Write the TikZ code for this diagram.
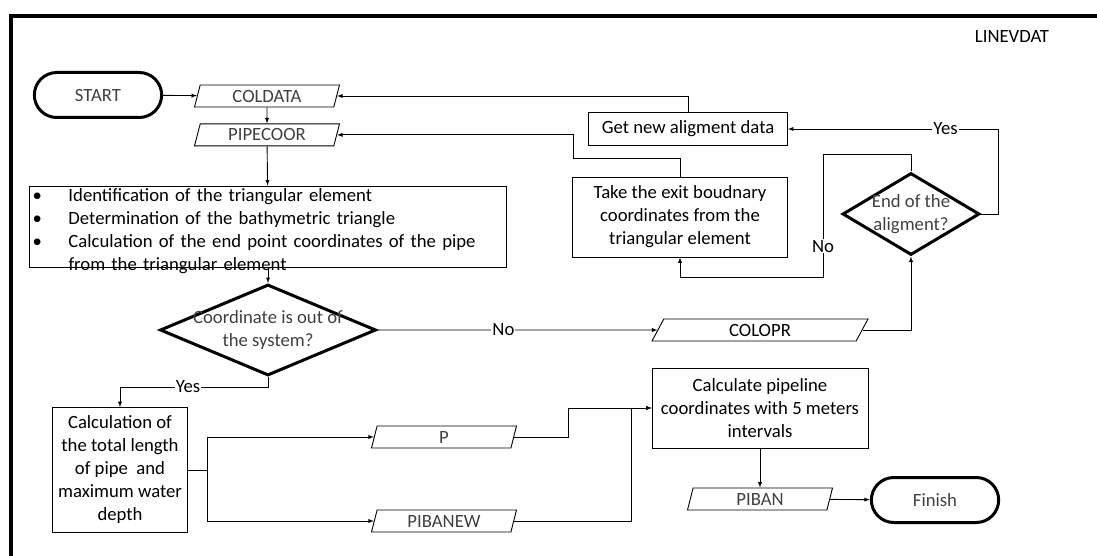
\documentclass[tikz,border=0pt]{standalone}
\usepackage{fontspec}
\setmainfont{Carlito}
\usepackage{tikz}
\usetikzlibrary{positioning}
\usetikzlibrary{shapes.geometric,shapes.misc}
\usetikzlibrary{arrows}

\definecolor{txtgray}{RGB}{64,64,64}

\tikzset{
  every node/.style={font=\fontsize{18.7}{23}\selectfont},
  proc/.style={draw,rectangle,line width=0.9pt,align=center,inner sep=3pt},
  io/.style={draw,trapezium,trapezium left angle=65,trapezium right angle=115,
    trapezium stretches body,line width=0.9pt,minimum height=22pt,inner sep=0pt,text=txtgray},
  term/.style={draw,rounded rectangle,line width=3pt,minimum width=134pt,minimum height=45pt,text=txtgray},
  decision/.style={draw,diamond,line width=3pt,inner sep=0pt},
  arr/.style={->,>=latex,line width=0.9pt},
  lbl/.style={fill=white,inner sep=1pt}
}

\begin{document}
\begin{tikzpicture}[x=1pt,y=-1pt]
\useasboundingbox (0,0) rectangle (1097,556);

% frame
\draw[line width=3.5pt] (1097,16) -- (11,16) -- (11,556);
\node (linev) at (1012,37) {LINEVDAT};

% top row
\node[term]   (start)    at (98,95)   {START};
\node[io,minimum width=145pt] (coldata)  at (267,96)  {COLDATA};
\node[io,minimum width=145pt] (pipecoor) [below=16pt of coldata] {PIPECOOR};
\node[proc,minimum width=199pt,minimum height=33pt] (getnew) at (688,129) {Get new aligment data};
\node[proc,minimum width=215pt,minimum height=80pt] (take) at (680,217)
  {Take the exit boudnary\\coordinates from the\\triangular element};
\node[decision,minimum width=137pt,minimum height=82pt,
  label={[align=center,text=txtgray]center:End of the\\aligment?}] (endal) at (911,214) {};

% bullets
\node[proc,inner ysep=0.5pt,text width=471pt,align=left] (bullets) at (268,226.5)
  {\raisebox{-9pt}[40pt][40pt]{\begin{tabular}{@{}p{24pt}l@{}}
   \textbullet & Identification of the triangular element\\
   \textbullet & Determination of the bathymetric triangle\\
   \textbullet & Calculation of the end point coordinates of the pipe\\
               & from the triangular element
   \end{tabular}}};

% middle
\node[decision,minimum width=216pt,minimum height=91pt,
  label={[align=center,text=txtgray]center:Coordinate is out of\\the system?}] (cond) at (268,330) {};
\node[io,trapezium left angle=46,trapezium right angle=134,minimum width=216pt,text=black] (colopr) at (760,330) {COLOPR};

% bottom
\node[proc,minimum width=135pt,minimum height=125pt] (calc) at (120,470)
  {Calculation of\\the total length\\of pipe~ and\\maximum water\\depth};
\coordinate (split) at (207,470);
\node[io,minimum width=145pt] (p)       at (444,437) {P};
\node[io,minimum width=145pt] (pibanew) at (444,521) {PIBANEW};
\node[proc,minimum width=216pt,minimum height=80pt] (calcpipe) at (760,408)
  {Calculate pipeline\\coordinates with 5 meters\\intervals};
\node[io,minimum width=145pt] (piban) at (760,499) {PIBAN};
\node[term] (finish) at (935,500) {Finish};

% connectors
\draw[arr] (start) -- (coldata);
\draw[arr] (coldata) -- (pipecoor);
\draw[arr] (getnew.north) |- (coldata);
\draw[arr] (take.north) |- (573,158) |- (pipecoor);
\draw[arr] (pipecoor) -- (bullets);
\draw[arr] (bullets.south) -- (cond.north);
\draw[arr] (cond.east) -- node[lbl,pos=0.45] {No} (colopr);
\draw[arr] (colopr.east) -| (endal.south);
\draw[arr] (endal.north) |- (823,154) -- node[lbl,pos=0.75] {No} (823,277) -| (take.south);
\draw[arr] (endal.east) -| (998,129) -- node[lbl,pos=0.25] {Yes} (getnew.east);
\draw[arr] (cond.south) -- ++(0,10) -| node[lbl,pos=0.27] {Yes} (calc.north);
\draw (calc.east) -- (split);
\draw[arr] (split) |- (p);
\draw[arr] (split) |- (pibanew);
\draw[arr] (p.east) -| (568,408) -- (calcpipe.west);
\draw[arr] (pibanew.east) -| (631,408) -- (calcpipe.west);
\draw[arr] (calcpipe) -- (piban);
\draw[arr] (piban) -- (finish);

\end{tikzpicture}
\end{document}
